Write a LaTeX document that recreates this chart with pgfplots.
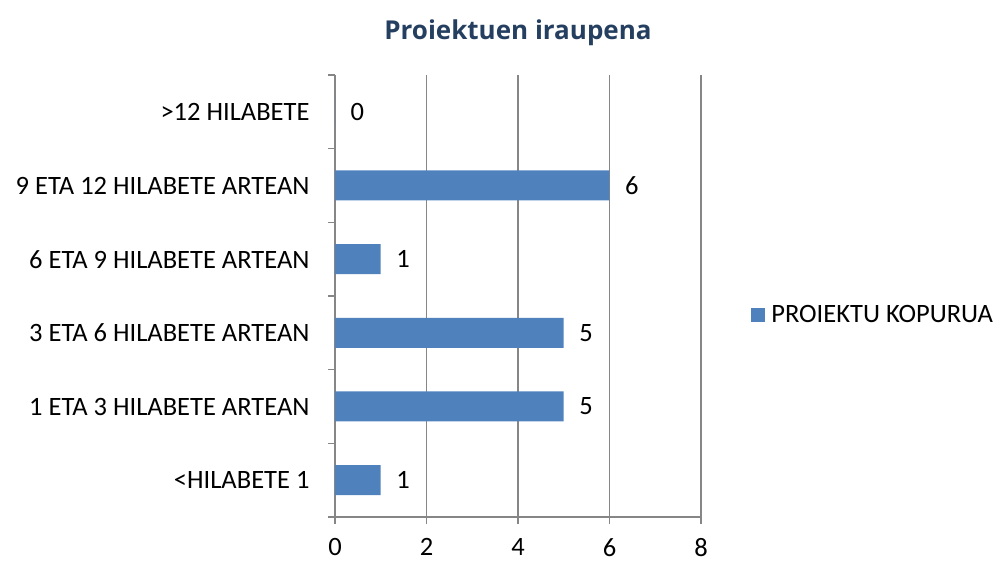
\documentclass[border=0pt]{standalone}
\usepackage{pgfplots}
\pgfplotsset{compat=1.18}
\usepackage{fontspec}
\setmainfont{Carlito}
\newfontfamily\titlefont{Open Sans}
\definecolor{barblue}{HTML}{4F81BD}
\definecolor{titleblue}{HTML}{243F60}
\definecolor{gridgray}{HTML}{868686}
\begin{document}
\begin{tikzpicture}
\path[use as bounding box] (0,0) rectangle (998pt,562pt);
\begin{axis}[
  at={(335pt,45pt)}, anchor=south west,
  scale only axis,
  width=366pt, height=442pt,
  xbar, bar width=30pt,
  xmin=0, xmax=8,
  ymin=-0.5, ymax=5.5,
  xtick={0,2,4,6,8},
  ytick={0,1,2,3,4,5},
  yticklabels={<HILABETE 1,1 ETA 3 HILABETE ARTEAN,3 ETA 6 HILABETE ARTEAN,6 ETA 9 HILABETE ARTEAN,9 ETA 12 HILABETE ARTEAN,>12 HILABETE},
  minor ytick={-0.5,0.5,1.5,2.5,3.5,4.5,5.5},
  axis x line=bottom, axis y line=left,
  axis line style={gridgray, line width=1.3pt, -},
  xmajorgrids,
  major grid style={gridgray, line width=1.3pt},
  tick align=outside,
  major tick length=7pt,
  minor tick length=7pt,
  y tick style={draw=none},
  minor y tick style={draw=gridgray, line width=1.3pt},
  x tick style={gridgray, line width=1.3pt},
  tick label style={font=\fontsize{26.5}{30}\selectfont, black},
  yticklabel style={xshift=-15pt},
  xticklabel style={yshift=-11pt},
  /pgf/number format/assume math mode=true,
  nodes near coords,
  nodes near coords style={font=\fontsize{26.5}{30}\selectfont, black, anchor=west, xshift=12pt},
  title={Proiektuen iraupena},
  title style={font=\titlefont\fontsize{26}{30}\selectfont\bfseries, text=titleblue, at={(0.5,1)}, anchor=south, yshift=20pt},
  legend style={at={(1.137,0.457)}, anchor=west, draw=none, font=\fontsize{26.5}{30}\selectfont, inner sep=0pt, cells={anchor=west}},
  legend image code/.code={\fill[barblue] (0pt,-7pt) rectangle (14pt,7pt); \path (18pt,0pt);},
]
\addplot[fill=barblue, draw=none] coordinates {(1,0) (5,1) (5,2) (1,3) (6,4) (0,5)};
\addlegendentry{PROIEKTU KOPURUA}
\end{axis}
\end{tikzpicture}
\end{document}
